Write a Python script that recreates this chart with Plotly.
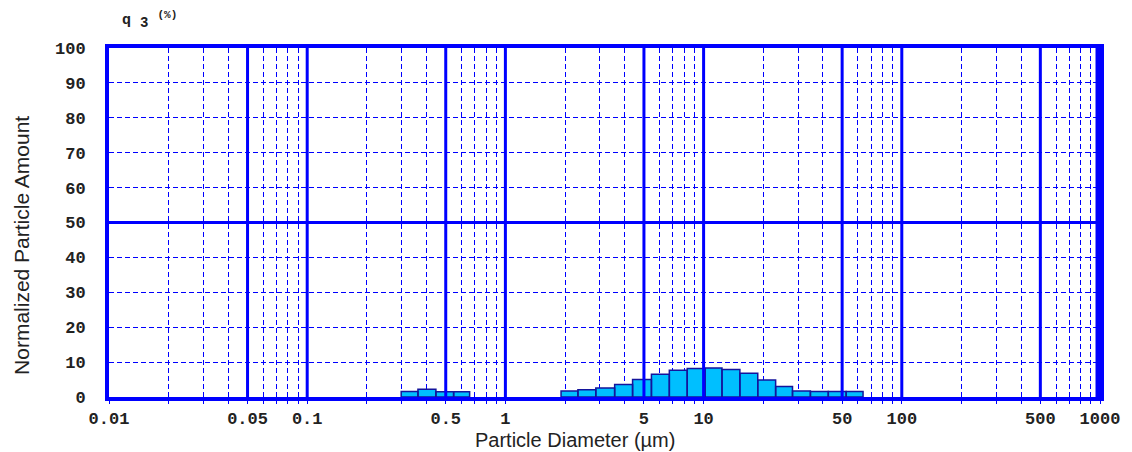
import plotly.graph_objects as go

# ---- data ----
x_major_ticks = [0.01, 0.05, 0.1, 0.5, 1, 5, 10, 50, 100, 500, 1000]
x_major_labels = ["0.01", "0.05", "0.1", "0.5", "1", "5", "10", "50", "100", "500", "1000"]
x_minor_ticks = [0.02, 0.03, 0.04, 0.06, 0.07, 0.08, 0.09,
                 0.2, 0.3, 0.4, 0.6, 0.7, 0.8, 0.9,
                 2, 3, 4, 6, 7, 8, 9,
                 20, 30, 40, 60, 70, 80, 90,
                 200, 300, 400, 600, 700, 800, 900]
y_ticks = [0, 10, 20, 30, 40, 50, 60, 70, 80, 90, 100]

# fine mode: bin edges (µm) and normalized amount
fine_edges = [0.298, 0.362, 0.446, 0.548, 0.660]
fine_q3 = [1.6, 2.2, 1.5, 1.5]

# coarse mode: bin edges (µm) and normalized amount
coarse_edges = [1.909, 2.322, 2.858, 3.558, 4.382, 5.455, 6.716, 8.266, 10.17,
                12.38, 15.24, 18.76, 23.09, 28.09, 34.58, 42.57, 52.40, 63.75]
coarse_q3 = [1.7, 2.1, 2.6, 3.6, 5.0, 6.5, 7.7, 8.2, 8.3,
             7.9, 6.8, 4.9, 3.0, 1.7, 1.6, 1.6, 1.6]

BLUE = "#0000FF"
TXT = "#222222"


def bar_polygons(edges, heights):
    xs, ys = [], []
    for i, h in enumerate(heights):
        l, r = edges[i], edges[i + 1]
        xs += [l, l, r, r, l, None]
        ys += [0, h, h, 0, 0, None]
    return xs, ys


fig = go.Figure()
for edges, q in [(fine_edges, fine_q3), (coarse_edges, coarse_q3)]:
    bx, by = bar_polygons(edges, q)
    fig.add_trace(go.Scatter(
        x=bx, y=by, mode="lines", fill="toself",
        fillcolor="#00BFFF", line=dict(color="#14149C", width=1.5),
        hoverinfo="skip", showlegend=False,
    ))

shapes = []
# solid vertical grid lines on top of bars
for v in x_major_ticks[1:-1]:
    shapes.append(dict(type="line", xref="x", yref="paper", x0=v, x1=v, y0=0, y1=1,
                       line=dict(color=BLUE, width=3), layer="above"))
# solid horizontal line at 50
shapes.append(dict(type="line", xref="paper", yref="y", x0=0, x1=1, y0=50, y1=50,
                   line=dict(color=BLUE, width=3), layer="above"))
# thick right border
shapes.append(dict(type="line", xref="paper", yref="paper", x0=0.999, x1=0.999, y0=-0.005, y1=1.005,
                   line=dict(color=BLUE, width=7), layer="above"))

tickfont = dict(family="Liberation Mono", size=17, color=TXT, weight="bold")

fig.update_layout(
    width=1132, height=452,
    margin=dict(l=109, r=28, t=48, b=55),
    paper_bgcolor="white", plot_bgcolor="white",
    shapes=shapes,
    xaxis=dict(
        type="log", range=[-2, 3],
        tickmode="array", tickvals=x_major_ticks, ticktext=x_major_labels,
        showgrid=False, zeroline=False,
        showline=True, linecolor=BLUE, linewidth=4, mirror=True,
        ticks="outside", ticklen=3, tickcolor=BLUE, tickwidth=1,
        tickfont=tickfont, ticklabelstandoff=0,
        minor=dict(tickmode="array", tickvals=x_minor_ticks, showgrid=True,
                   gridcolor=BLUE, griddash="5px,3px", gridwidth=1,
                   ticks="outside", ticklen=3, tickcolor=BLUE, tickwidth=1),
    ),
    yaxis=dict(
        range=[0, 100],
        tickmode="array", tickvals=y_ticks,
        showgrid=True, gridcolor=BLUE, griddash="5px,3px", gridwidth=1,
        zeroline=False,
        showline=True, linecolor=BLUE, linewidth=4, mirror=True,
        ticks="", tickfont=tickfont, ticklabelstandoff=16,
    ),
    annotations=[
        dict(text="Particle Diameter (µm)", xref="paper", yref="paper",
             x=0.470, y=-0.123, xanchor="center", yanchor="middle", showarrow=False,
             font=dict(family="Liberation Sans", size=20, color=TXT)),
        dict(text="Normalized Particle Amount", xref="paper", yref="paper",
             x=-0.0884, y=0.434, xanchor="center", yanchor="middle", showarrow=False,
             textangle=-90,
             font=dict(family="Liberation Sans", size=21, color=TXT)),
        dict(text="q <sub><span style='font-size:14px'>3</span></sub> <sup><span style='font-size:11px'>(%)</span></sup>",
             xref="paper", yref="paper",
             x=0.011, y=1.08, xanchor="left", yanchor="middle", showarrow=False,
             font=dict(family="Liberation Mono", size=15, color=TXT, weight="bold")),
    ],
)

fig.write_html("out.html")
